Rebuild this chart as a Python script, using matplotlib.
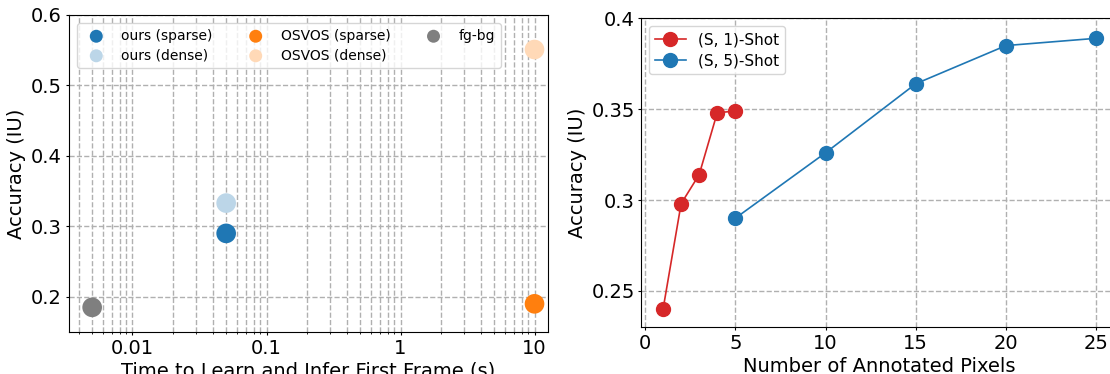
import matplotlib
matplotlib.use("Agg")
import matplotlib.pyplot as plt
from matplotlib.ticker import FixedLocator, FuncFormatter, LogLocator, NullFormatter

# ---- data: left panel ----
scatter_labels = ["ours (sparse)", "ours (dense)", "OSVOS (sparse)", "OSVOS (dense)", "fg-bg"]
scatter_time = [0.05, 0.05, 10.0, 10.0, 0.005]
scatter_acc = [0.290, 0.333, 0.190, 0.551, 0.185]
scatter_colors = ["#1f77b4", "#bcd6e8", "#ff7f0e", "#ffd9b7", "#7f7f7f"]
left_xticks = [0.01, 0.1, 1, 10]
left_xticklabels = ["0.01", "0.1", "1", "10"]
left_yticks = [0.2, 0.3, 0.4, 0.5, 0.6]

# ---- data: right panel ----
shot1_label = "(S, 1)-Shot"
shot1_x = [1, 2, 3, 4, 5]
shot1_y = [0.240, 0.298, 0.314, 0.348, 0.349]
shot5_label = "(S, 5)-Shot"
shot5_x = [5, 10, 15, 20, 25]
shot5_y = [0.290, 0.326, 0.364, 0.385, 0.389]
right_xticks = [0, 5, 10, 15, 20, 25]
right_yticks = [0.25, 0.3, 0.35, 0.4]

W, H = 1110, 374
fig = plt.figure(figsize=(W / 100, H / 100), dpi=100)

def px_axes(x0, y0, x1, y1):
    return fig.add_axes([x0 / W, 1 - y1 / H, (x1 - x0) / W, (y1 - y0) / H])

grid_kw = dict(color="#b0b0b0", linestyle="--", linewidth=1.0)
tick_kw = dict(labelsize=14, length=2.5, pad=2.2)

# ---- left panel ----
ax1 = px_axes(68.5, 15, 547.5, 332)
for lab, t, a, c in zip(scatter_labels, scatter_time, scatter_acc, scatter_colors):
    ax1.scatter([t], [a], s=200, color=c, label=lab, zorder=3, edgecolors="none")
ax1.set_xscale("log")
ax1.set_xlim(0.00333, 12.5)
ax1.set_ylim(0.15, 0.6)
ax1.xaxis.set_major_locator(FixedLocator(left_xticks))
lbl_map = dict(zip(left_xticks, left_xticklabels))
ax1.xaxis.set_major_formatter(FuncFormatter(lambda v, p: lbl_map.get(v, "")))
ax1.xaxis.set_minor_locator(LogLocator(base=10, subs=range(2, 10), numticks=20))
ax1.xaxis.set_minor_formatter(NullFormatter())
ax1.yaxis.set_major_locator(FixedLocator(left_yticks))
ax1.yaxis.set_major_formatter(FuncFormatter(lambda v, p: "%g" % v))
ax1.grid(True, which="both", axis="x", **grid_kw)
ax1.grid(True, which="major", axis="y", **grid_kw)
ax1.set_axisbelow(True)
ax1.tick_params(**tick_kw)
ax1.tick_params(which="minor", length=1.5)
ax1.set_xlabel("Time to Learn and Infer First Frame (s)", fontsize=14, labelpad=3)
ax1.set_ylabel("Accuracy (IU)", fontsize=14, labelpad=3.5)
ax1.legend(ncol=3, loc="upper left", fontsize=10, markerscale=0.66,
           columnspacing=2.1, handletextpad=0.8, borderaxespad=0.6,
           scatterpoints=1, framealpha=0.8, labelspacing=0.4)

# ---- right panel ----
ax2 = px_axes(641.4, 18.3, 1118, 327.3)
ax2.plot(shot1_x, shot1_y, "-o", color="#d62728", markersize=10, linewidth=1.2, label=shot1_label)
ax2.plot(shot5_x, shot5_y, "-o", color="#1f77b4", markersize=10, linewidth=1.2, label=shot5_label)
ax2.set_xlim(-0.2, 26.2)
ax2.set_ylim(0.23, 0.4)
ax2.xaxis.set_major_locator(FixedLocator(right_xticks))
ax2.yaxis.set_major_locator(FixedLocator(right_yticks))
ax2.yaxis.set_major_formatter(FuncFormatter(lambda v, p: "%g" % v))
ax2.grid(True, **grid_kw)
ax2.set_axisbelow(True)
ax2.tick_params(**tick_kw)
ax2.set_xlabel("Number of Annotated Pixels", fontsize=14, labelpad=3)
ax2.set_ylabel("Accuracy (IU)", fontsize=14, labelpad=3.5)
ax2.legend(loc="upper left", fontsize=11, borderaxespad=0.5, labelspacing=0.4)

fig.savefig("out.png", dpi=100)
